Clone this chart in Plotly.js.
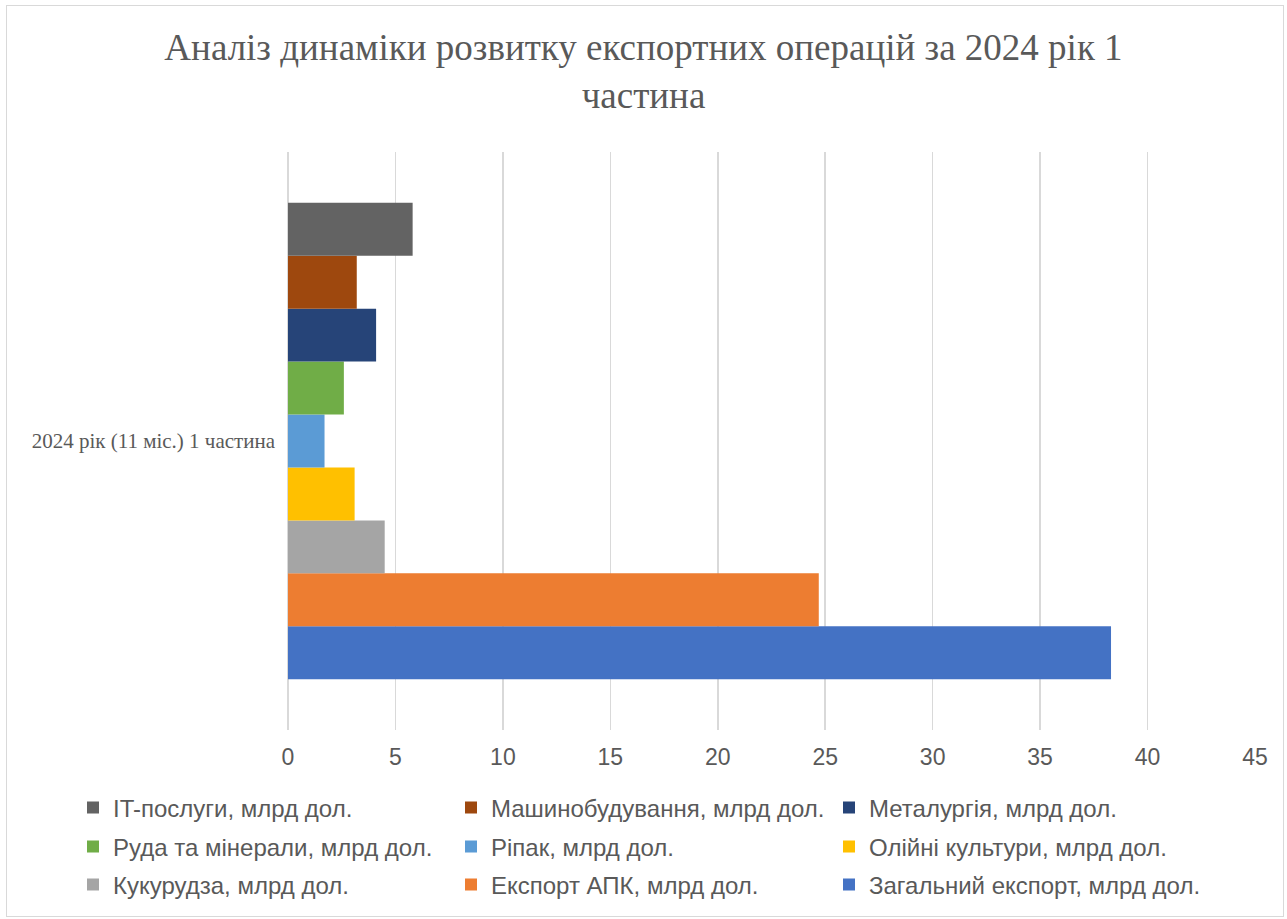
<!DOCTYPE html>
<html>
<head>
<meta charset="utf-8">
<script src="https://cdn.plot.ly/plotly-3.0.1.min.js"></script>
<style>
  html, body { margin: 0; padding: 0; background: #ffffff; }
  #wrap { position: absolute; left: 6px; top: 5px; width: 1276px; height: 910px; border: 1px solid #d9d9d9; }
  #chart { position: absolute; left: 0; top: 0; width: 1287px; height: 919px; }
</style>
</head>
<body>
<div id="wrap"></div>
<div id="chart"></div>
<script>
// Data (legend order, top bar first)
const category = ['2024 рік (11 міс.) 1 частина'];
const seriesNames = [
  'IT-послуги, млрд дол.',
  'Машинобудування, млрд дол.',
  'Металургія, млрд дол.',
  'Руда та мінерали, млрд дол.',
  'Ріпак, млрд дол.',
  'Олійні культури, млрд дол.',
  'Кукурудза, млрд дол.',
  'Експорт АПК, млрд дол.',
  'Загальний експорт, млрд дол.'
];
const seriesValues = [5.8, 3.2, 4.1, 2.6, 1.7, 3.1, 4.5, 24.7, 38.3];
const seriesColors = ['#636363', '#9E480E', '#264478', '#70AD47', '#5B9BD5', '#FFC000', '#A5A5A5', '#ED7D31', '#4472C4'];
const xTicks = [0, 5, 10, 15, 20, 25, 30, 35, 40, 45];

// one legend box per entry, laid out in a 3-column grid
const legendId = i => (i === 0 ? 'legend' : 'legend' + (i + 1));

// Plotly stacks grouped horizontal bars bottom-up, so add traces in reverse
const traces = [];
for (let i = seriesNames.length - 1; i >= 0; i--) {
  traces.push({
    type: 'bar',
    orientation: 'h',
    name: seriesNames[i],
    y: category,
    x: [seriesValues[i]],
    legend: legendId(i),
    marker: { color: seriesColors[i], line: { width: 0 } },
    hoverinfo: 'x+name'
  });
}

const legendFont = { family: 'Liberation Sans, Arial, sans-serif', size: 24, color: '#595959' };
const colX = [73, 451, 829];
const rowY = [808, 847, 885];

const layout = {
  width: 1287,
  height: 919,
  paper_bgcolor: 'rgba(0,0,0,0)',
  plot_bgcolor: 'rgba(0,0,0,0)',
  margin: { l: 288, r: 32, t: 152, b: 189 },
  barmode: 'group',
  bargap: 0.176,
  bargroupgap: 0,
  title: {
    text: 'Аналіз динаміки розвитку експортних операцій за 2024 рік 1<br>частина',
    font: { family: 'Liberation Serif, Times New Roman, serif', size: 37, color: '#595959' },
    x: 0.5, xanchor: 'center', xref: 'container',
    y: 0.935, yanchor: 'top', yref: 'container'
  },
  xaxis: {
    range: [0, 45],
    tickvals: xTicks,
    ticktext: xTicks.map(String),
    showgrid: true,
    gridcolor: '#d9d9d9',
    gridwidth: 1.5,
    zeroline: true,
    zerolinecolor: '#d9d9d9',
    zerolinewidth: 1.5,
    showline: false,
    ticks: '',
    ticklabelstandoff: 11,
    tickfont: { family: 'Liberation Sans, Arial, sans-serif', size: 23, color: '#595959' },
    fixedrange: true
  },
  yaxis: {
    showgrid: false,
    zeroline: false,
    showline: false,
    ticks: '',
    ticklabelstandoff: 12,
    tickfont: { family: 'Liberation Serif, Times New Roman, serif', size: 21, color: '#595959' },
    fixedrange: true
  },
  showlegend: true
};

for (let i = 0; i < seriesNames.length; i++) {
  layout[legendId(i)] = {
    orientation: 'h',
    xref: 'container', yref: 'container',
    x: colX[i % 3] / 1287, xanchor: 'left',
    y: 1 - rowY[Math.floor(i / 3)] / 919, yanchor: 'middle',
    font: legendFont,
    bgcolor: 'rgba(0,0,0,0)'
  };
}

Plotly.newPlot('chart', traces, layout, { displayModeBar: false, staticPlot: true });
</script>
</body>
</html>
